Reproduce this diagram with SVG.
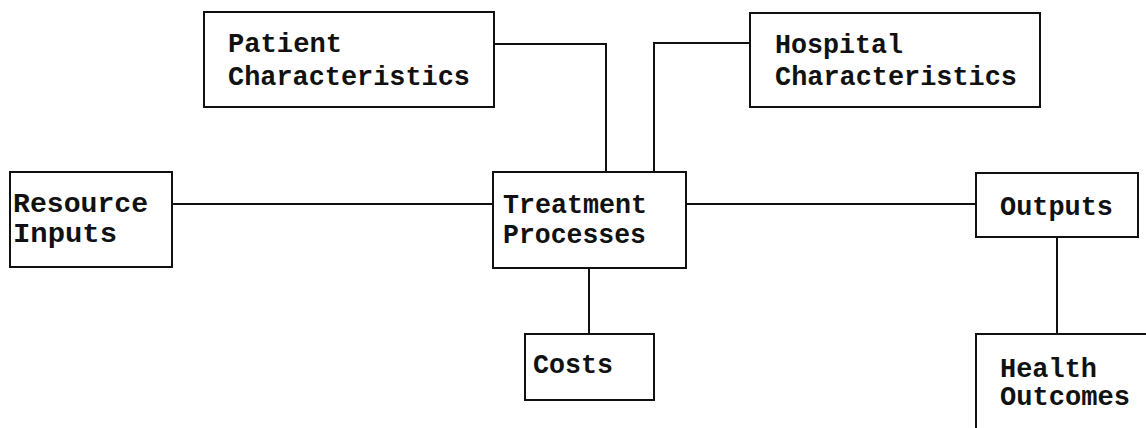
<svg xmlns="http://www.w3.org/2000/svg" width="1146" height="428" viewBox="0 0 1146 428">
<style>
.box{fill:#fff;stroke:#111;stroke-width:2}
.ln{fill:none;stroke:#111;stroke-width:2}
text{font-family:"Liberation Mono","DejaVu Sans Mono",monospace;font-size:28px;font-weight:bold;fill:#111}
</style>
<rect width="1146" height="428" fill="#fff"/>
<g id="connectors">
<polyline class="ln" points="494,44 606,44 606,172"/>
<polyline class="ln" points="750,43 654,43 654,172"/>
<line class="ln" x1="172" y1="204" x2="493" y2="204"/>
<line class="ln" x1="686" y1="204" x2="976" y2="204"/>
<line class="ln" x1="589" y1="268" x2="589" y2="334"/>
<line class="ln" x1="1057" y1="237" x2="1057" y2="334"/>
</g>
<g id="patient"><rect class="box" x="204" y="12" width="290" height="95"/><text x="228" y="52" textLength="114" lengthAdjust="spacingAndGlyphs">Patient</text><text x="228" y="85" textLength="242" lengthAdjust="spacingAndGlyphs">Characteristics</text></g>
<g id="hospital"><rect class="box" x="750" y="13" width="290" height="94"/><text x="775" y="53" textLength="128" lengthAdjust="spacingAndGlyphs">Hospital</text><text x="775" y="85" textLength="242" lengthAdjust="spacingAndGlyphs">Characteristics</text></g>
<g id="resource"><rect class="box" x="10" y="172" width="162" height="95"/><text x="13" y="212" textLength="135" lengthAdjust="spacingAndGlyphs">Resource</text><text x="13" y="242" textLength="104" lengthAdjust="spacingAndGlyphs">Inputs</text></g>
<g id="treatment"><rect class="box" x="493" y="172" width="193" height="96"/><text x="503" y="213" textLength="144" lengthAdjust="spacingAndGlyphs">Treatment</text><text x="503" y="243" textLength="143" lengthAdjust="spacingAndGlyphs">Processes</text></g>
<g id="costs"><rect class="box" x="525" y="334" width="129" height="66"/><text x="533" y="373" textLength="80" lengthAdjust="spacingAndGlyphs">Costs</text></g>
<g id="outputs"><rect class="box" x="976" y="173" width="162" height="64"/><text x="1000" y="215" textLength="113" lengthAdjust="spacingAndGlyphs">Outputs</text></g>
<g id="health"><rect class="box" x="976" y="334" width="200" height="110"/><text x="1000" y="377" textLength="97" lengthAdjust="spacingAndGlyphs">Health</text><text x="1000" y="405" textLength="130" lengthAdjust="spacingAndGlyphs">Outcomes</text></g>
</svg>
